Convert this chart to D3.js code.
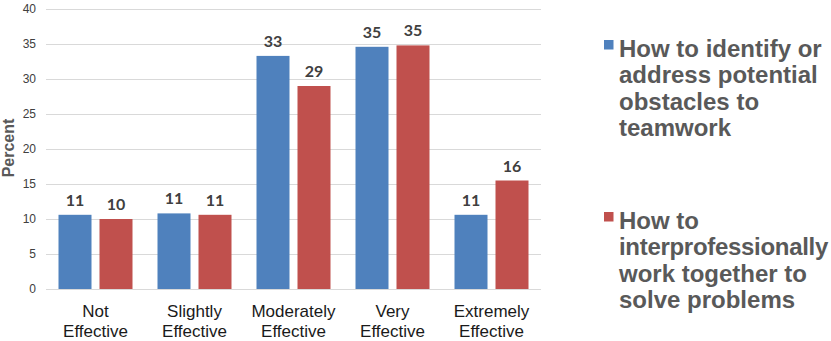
<!DOCTYPE html>
<html>
<head>
<meta charset="utf-8">
<script src="https://cdn.jsdelivr.net/npm/d3@7"></script>
<style>
  html, body { margin: 0; padding: 0; background: #fff; }
  svg { display: block; }
</style>
</head>
<body>
<svg id="chart" width="831" height="341"></svg>
<script>
// ---- data ----
const categories = [["Not", "Effective"], ["Slightly", "Effective"], ["Moderately", "Effective"], ["Very", "Effective"], ["Extremely", "Effective"]];
const seriesNames = ["How to identify or address potential obstacles to teamwork", "How to interprofessionally work together to solve problems"];
const legendLines = [["How to identify or", "address potential", "obstacles to", "teamwork"], ["How to", "interprofessionally", "work together to", "solve problems"]];
const obstaclesValues = [10.6, 10.8, 33.3, 34.6, 10.6];
const problemsValues = [10.0, 10.6, 29.0, 34.8, 15.5];
const yTicks = [0, 5, 10, 15, 20, 25, 30, 35, 40];
const colors = ["#4F81BD", "#C0504D"];

const seriesValues = [obstaclesValues, problemsValues];
const catKeys = categories.map(c => c.join(" "));

const svg = d3.select("#chart");

const x0 = d3.scaleBand().domain(catKeys).range([46, 541]).paddingInner(0).paddingOuter(0);
const x1 = d3.scaleBand().domain([0, 1]).range([0, x0.bandwidth()]).paddingInner(8 / 41).paddingOuter(0.3049);
const y = d3.scaleLinear().domain([0, 40]).range([289, 9]);

// gridlines
svg.append("g").selectAll("line").data(yTicks).join("line")
  .attr("x1", 46).attr("x2", 541)
  .attr("y1", d => Math.round(y(d)) + 0.5).attr("y2", d => Math.round(y(d)) + 0.5)
  .attr("stroke", "#D9D9D9").attr("stroke-width", 1);

// y tick labels
svg.append("g").selectAll("text").data(yTicks).join("text")
  .attr("x", 36).attr("y", d => y(d))
  .attr("dy", "0.35em")
  .attr("text-anchor", "end")
  .attr("font-family", "Liberation Sans, Arial, sans-serif")
  .attr("font-size", 12)
  .attr("fill", "#404040")
  .text(d => d);

// y axis title
svg.append("text")
  .attr("transform", "translate(14,148) rotate(-90)")
  .attr("text-anchor", "middle")
  .attr("font-family", "Liberation Sans, Arial, sans-serif")
  .attr("font-weight", "bold")
  .attr("font-size", 16)
  .attr("fill", "#595959")
  .text("Percent");

// bars
const groups = svg.append("g").selectAll("g").data(catKeys).join("g")
  .attr("transform", d => `translate(${x0(d)},0)`);

groups.each(function(cat, ci) {
  const g = d3.select(this);
  const vals = seriesValues.map((s, si) => ({ si, v: s[ci] }));
  g.selectAll("rect").data(vals).join("rect")
    .attr("x", d => x1(d.si))
    .attr("width", x1.bandwidth())
    .attr("y", d => y(d.v))
    .attr("height", d => y(0) - y(d.v))
    .attr("fill", d => colors[d.si]);
  g.selectAll("text").data(vals).join("text")
    .attr("x", d => x1(d.si) + x1.bandwidth() / 2)
    .attr("y", d => y(d.v) - 9)
    .attr("text-anchor", "middle")
    .attr("font-family", "Lato, 'Open Sans', sans-serif")
    .attr("font-weight", "bold")
    .attr("font-size", 16)
    .attr("fill", "#404040")
    .text(d => Math.round(d.v));
});

// category labels
const catLabels = svg.append("g").selectAll("text").data(categories).join("text")
  .attr("x", (d, i) => x0(catKeys[i]) + x0.bandwidth() / 2)
  .attr("y", 316.5)
  .attr("text-anchor", "middle")
  .attr("font-family", "Liberation Sans, Arial, sans-serif")
  .attr("font-size", 17)
  .attr("fill", "#1a1a1a");
catLabels.selectAll("tspan").data(d => d).join("tspan")
  .attr("x", function() { return d3.select(this.parentNode).attr("x"); })
  .attr("dy", (d, i) => i === 0 ? 0 : 20)
  .text(d => d);

// legend
const legendTop = [56.5, 228.5];
const leg = svg.append("g").selectAll("g").data(seriesNames).join("g");
leg.append("rect")
  .attr("x", 604).attr("y", (d, i) => legendTop[i] - 16.5)
  .attr("width", 9.5).attr("height", 9.5)
  .attr("fill", (d, i) => colors[i]);
const legText = leg.append("text")
  .attr("x", 619).attr("y", (d, i) => legendTop[i])
  .attr("font-family", "Liberation Sans, Arial, sans-serif")
  .attr("font-weight", "bold")
  .attr("font-size", 24)
  .attr("fill", "#595959");
legText.selectAll("tspan").data((d, i) => legendLines[i]).join("tspan")
  .attr("x", 619)
  .attr("dy", (d, i) => i === 0 ? 0 : 26.5)
  .attr("letter-spacing", d => d.length > 18 ? -0.3 : 0)
  .text(d => d);
</script>
</body>
</html>
